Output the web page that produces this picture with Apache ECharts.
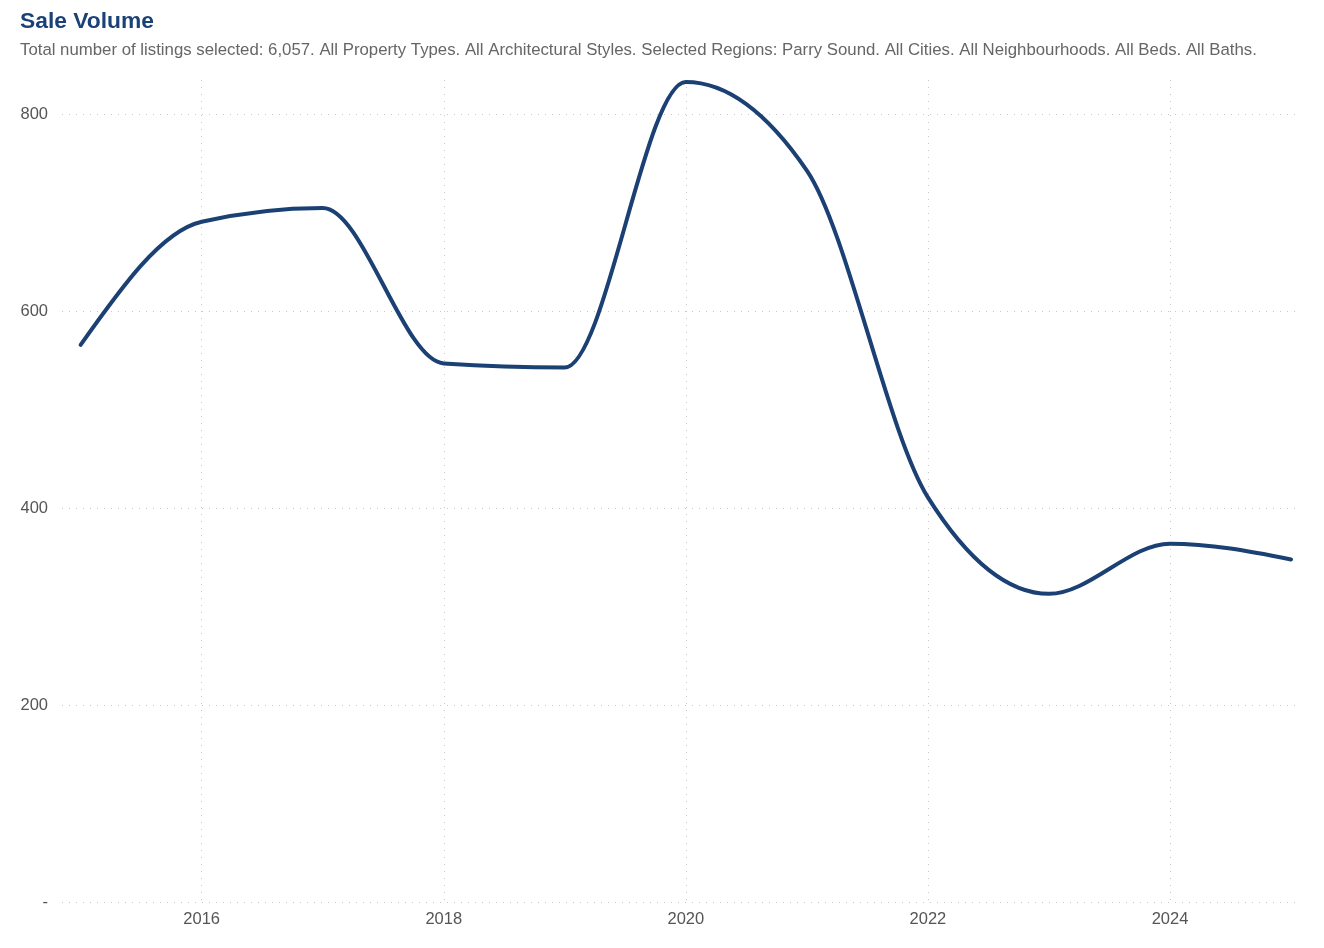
<!DOCTYPE html>
<html>
<head lang="en">
    <meta charset="utf-8">
    <title>Sale Volume</title>
    <script src="https://cdn.jsdelivr.net/npm/echarts@6/dist/echarts.min.js"></script>
    <style>
        html, body { margin: 0; padding: 0; background: #fff; }
    </style>
</head>
<body>
    <div id="main" style="width: 1324px;height:948px;"></div>
    <script type="text/javascript">
        var myChart = echarts.init(document.getElementById('main'));

        /*--------------------- data ----------------------------*/
        var years = [2015, 2016, 2017, 2018, 2019, 2020, 2021, 2022, 2023, 2024, 2025];
        var saleVolume = [566, 691, 705, 547, 543, 833, 743, 411, 313, 364, 348];
        var yTicks = [0, 200, 400, 600, 800];

        var lineData = years.map(function (y, i) {
            return [y, saleVolume[i]];
        });

        var gridColor = '#c8c8c8';
        var labelColor = '#555';
        var lineColor = '#1b4073';

        // monotone cubic (same as d3 curveMonotoneX), done on pixel coords from api.coord
        function sign(v) { return v < 0 ? -1 : 1; }
        function slope3(p0, p1, p2) {
            var h0 = p1[0] - p0[0], h1 = p2[0] - p1[0];
            var s0 = (p1[1] - p0[1]) / h0, s1 = (p2[1] - p1[1]) / h1;
            var p = (s0 * h1 + s1 * h0) / (h0 + h1);
            return (sign(s0) + sign(s1)) * Math.min(Math.abs(s0), Math.abs(s1), 0.5 * Math.abs(p)) || 0;
        }
        function slope2(p0, p1, t) {
            var h = p1[0] - p0[0];
            return h ? (3 * (p1[1] - p0[1]) / h - t) / 2 : t;
        }
        function monotonePath(pts) {
            var n = pts.length;
            var t = new Array(n);
            for (var i = 1; i < n - 1; i++) t[i] = slope3(pts[i - 1], pts[i], pts[i + 1]);
            t[0] = slope2(pts[0], pts[1], t[1]);
            t[n - 1] = slope2(pts[n - 1], pts[n - 2], t[n - 2]);
            var d = 'M' + pts[0][0] + ' ' + pts[0][1];
            for (var j = 0; j < n - 1; j++) {
                var a = pts[j], b = pts[j + 1];
                var dx = (b[0] - a[0]) / 3;
                d += ' C' + (a[0] + dx) + ' ' + (a[1] + dx * t[j]) + ' ' +
                    (b[0] - dx) + ' ' + (b[1] - dx * t[j + 1]) + ' ' + b[0] + ' ' + b[1];
            }
            return d;
        }

        var option = {
            backgroundColor: '#fff',
            animation: false,
            title: {
                text: 'Sale Volume',
                subtext: 'Total number of listings selected: 6,057. All Property Types. All Architectural Styles. Selected Regions: Parry Sound. All Cities. All Neighbourhoods. All Beds. All Baths.',
                left: 15,
                top: 5,
                itemGap: 9,
                textStyle: {
                    color: '#1a4277',
                    fontSize: 22.8,
                    fontWeight: 'bold',
                    fontFamily: 'Liberation Sans'
                },
                subtextStyle: {
                    color: '#666',
                    fontSize: 16.8,
                    fontFamily: 'Liberation Sans'
                }
            },
            grid: {
                left: 62,
                right: 24,
                top: 80,
                bottom: 46
            },
            xAxis: {
                type: 'value',
                min: 2014.846,
                max: 2025.074,
                axisLine: { show: false },
                axisTick: { show: false },
                axisLabel: {
                    color: labelColor,
                    fontSize: 16.5,
                    fontFamily: 'Liberation Sans',
                    margin: 9,
                    showMinLabel: false,
                    showMaxLabel: false,
                    formatter: function (v) {
                        return Number.isInteger(v) ? String(v) : '';
                    }
                },
                splitLine: {
                    show: true,
                    showMinLine: false,
                    showMaxLine: false,
                    lineStyle: { color: gridColor, type: [1, 6], width: 1 }
                }
            },
            yAxis: {
                type: 'value',
                min: 0,
                max: 835,
                interval: 200,
                axisLine: { show: false },
                axisTick: { show: false },
                axisLabel: {
                    color: labelColor,
                    fontSize: 16.5,
                    fontFamily: 'Liberation Sans',
                    margin: 14,
                    showMaxLabel: false,
                    formatter: function (v) {
                        if (yTicks.indexOf(v) < 0) return '';
                        return v === 0 ? '-' : String(v);
                    }
                },
                splitLine: {
                    show: true,
                    showMaxLine: false,
                    lineStyle: { color: gridColor, type: [1, 6], width: 1 }
                }
            },
            series: [{
                name: 'Sale Volume',
                type: 'custom',
                data: [lineData[0]],
                clip: false,
                renderItem: function (params, api) {
                    var pts = lineData.map(function (d) {
                        return api.coord(d);
                    });
                    return {
                        type: 'path',
                        shape: { pathData: monotonePath(pts) },
                        style: {
                            fill: 'none',
                            stroke: lineColor,
                            lineWidth: 4,
                            lineCap: 'round',
                            lineJoin: 'round'
                        }
                    };
                }
            }]
        };
        myChart.setOption(option);
    </script>
</body>
</html>
